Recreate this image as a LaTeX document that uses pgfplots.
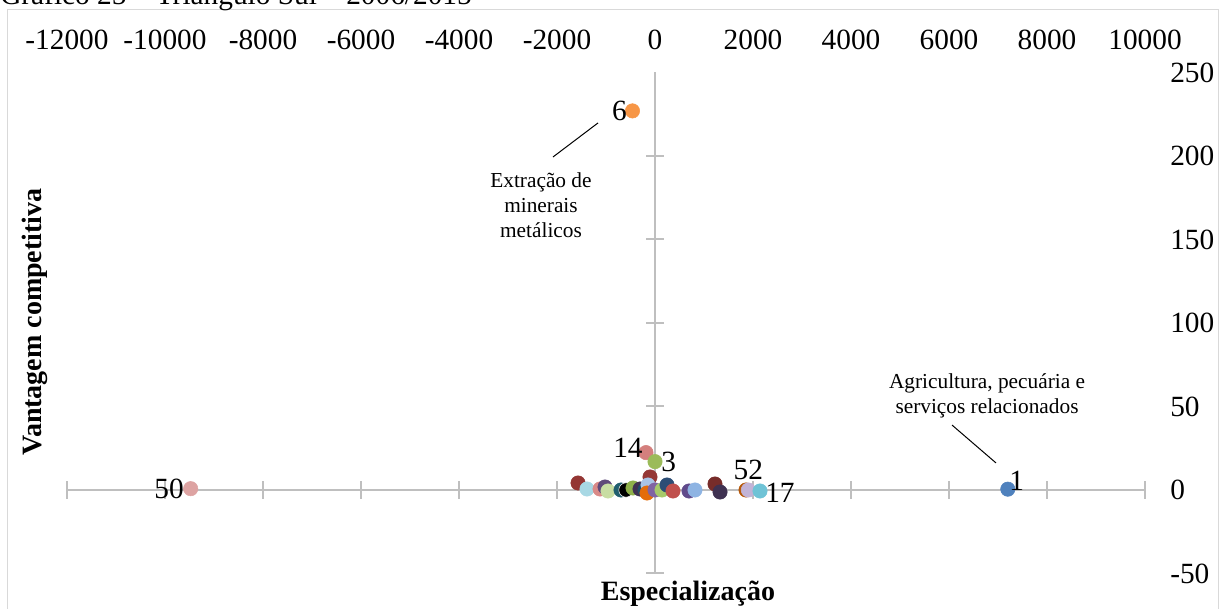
\documentclass[border=0pt]{standalone}
\usepackage{pgfplots}
\pgfplotsset{compat=1.18}
\usepackage{fontspec}
\setmainfont{Liberation Serif}

\definecolor{c01}{HTML}{4F81BD}
\definecolor{c06}{HTML}{F79646}
\definecolor{c03}{HTML}{9BBB59}
\definecolor{c14}{HTML}{D47F7D}
\definecolor{c17}{HTML}{6FC3D6}
\definecolor{c50}{HTML}{DDA3A2}
\definecolor{c52}{HTML}{C2B3D6}
\definecolor{cA}{HTML}{943634}
\definecolor{cB}{HTML}{A8D8E4}
\definecolor{cC}{HTML}{D98A88}
\definecolor{cD}{HTML}{5F497A}
\definecolor{cE}{HTML}{C8DDA3}
\definecolor{cF}{HTML}{215E6E}
\definecolor{cG}{HTML}{00B050}
\definecolor{cH}{HTML}{8FB04A}
\definecolor{cI}{HTML}{403152}
\definecolor{cJ}{HTML}{1F4E6B}
\definecolor{cK}{HTML}{953735}
\definecolor{cL}{HTML}{A9C4E6}
\definecolor{cM}{HTML}{E46C0A}
\definecolor{cN}{HTML}{8064A2}
\definecolor{cO}{HTML}{A7C96A}
\definecolor{cP}{HTML}{2C4D75}
\definecolor{cQ}{HTML}{C0504D}
\definecolor{cR}{HTML}{604A8B}
\definecolor{cS}{HTML}{8EB4E3}
\definecolor{cT}{HTML}{772C2A}
\definecolor{cU}{HTML}{3F3151}
\definecolor{cV}{HTML}{B65708}
\definecolor{axgray}{HTML}{BFBFBF}
\definecolor{framegray}{HTML}{D9D9D9}

\pgfplotsset{
  common/.style={
    scale only axis, width=808.5pt, height=375.75pt,
    xmin=-12000, xmax=10000, ymin=-50, ymax=250,
    enlargelimits=false, at={(0pt,0pt)}, anchor=south west,
    scaled ticks=false,
  },
  dot/.style={only marks, mark=*, mark size=5.4pt,
    mark options={draw=#1, fill=#1, line width=0.4pt}, forget plot},
  lab/.style={nodes near coords={#1}, nodes near coords style={font=\fontsize{22}{26}\selectfont, inner sep=0pt, text=black}},
}

\begin{document}
\begin{tikzpicture}
\useasboundingbox (-50.25pt,-26.625pt) rectangle (872.25pt,430.125pt);
\draw[framegray, line width=0.75pt] (-44.25pt,-60pt) rectangle (863.25pt,422.625pt);
\node[anchor=base west, inner sep=0pt, font=\fontsize{22}{26}\selectfont] at (-50.25pt,426.4pt) {Gráfico 25 – Triângulo Sul – 2006/2015};

% labels axis
\begin{axis}[common,
  axis line style={draw=none}, tick style={draw=none}, major tick length=0pt,
  xticklabel pos=upper, yticklabel pos=right,
  xtick={-12000,-10000,...,10000}, ytick={-50,0,...,250},
  /pgf/number format/1000 sep={}, /pgf/number format/assume math mode=true,
  xticklabel style={anchor=base, inner sep=0pt, yshift=17pt, font=\fontsize{22}{26}\selectfont},
  yticklabel style={anchor=west, inner sep=0pt, xshift=18.75pt, font=\fontsize{22}{26}\selectfont},
  xlabel={Especialização}, ylabel={Vantagem competitiva},
  xlabel style={at={(axis description cs:0.576,0)}, anchor=base, inner sep=0pt, yshift=-20.6pt, font=\bfseries\fontsize{21}{24}\selectfont},
  ylabel style={at={(axis description cs:0,0.502)}, anchor=center, inner sep=0pt, yshift=24pt, font=\bfseries\fontsize{21}{24}\selectfont},
]
\addplot[draw=none, forget plot] coordinates {(0,0)};
\end{axis}

% middle axis + data
\begin{axis}[common,
  axis lines=middle, clip=false,
  axis line style={draw=axgray, line width=1.5pt, -},
  every inner x axis line/.append style={-},
  every inner y axis line/.append style={-},
  xtick={-12000,-10000,-8000,-6000,-4000,-2000,2000,4000,6000,8000,10000},
  ytick={-50,50,100,150,200},
  xticklabels={}, yticklabels={},
  tick align=center, major tick length=13.5pt,
  tick style={draw=axgray, line width=1.5pt},
]
\addplot[dot=cA] coordinates {(-1571,4.2)};
\addplot[dot=cB] coordinates {(-1388,0.6)};
\addplot[dot=cC] coordinates {(-1122,0.6)};
\addplot[dot=cD] coordinates {(-1020,1.8)};
\addplot[dot=cE] coordinates {(-959,-0.6)};
\addplot[dot=cF] coordinates {(-694,0)};
\addplot[dot=cG, mark options={draw=white}] coordinates {(-592,0)};
\addplot[dot=cH] coordinates {(-449,1.2)};
\addplot[dot=cI] coordinates {(-306,0.6)};
\addplot[dot=cJ] coordinates {(-204,0)};
\addplot[dot=cK] coordinates {(-102,7.8)};
\addplot[dot=cL] coordinates {(-143,3)};
\addplot[dot=cM] coordinates {(-163,-1.8)};
\addplot[dot=cN] coordinates {(0,0)};
\addplot[dot=cO] coordinates {(143,0)};
\addplot[dot=cP] coordinates {(245,3)};
\addplot[dot=cQ] coordinates {(367,-0.6)};
\addplot[dot=cR] coordinates {(694,-0.6)};
\addplot[dot=cS] coordinates {(816,0)};
\addplot[dot=cT] coordinates {(1224,3.6)};
\addplot[dot=cU] coordinates {(1327,-1.2)};
\addplot[dot=cV] coordinates {(1857,0)};
% labelled points
\addplot[dot=c14, lab={14}, nodes near coords style={anchor=east, xshift=-2.3pt, yshift=3.5pt}] coordinates {(-184,22.4)};
\addplot[dot=c03, lab={3}, nodes near coords style={anchor=west, xshift=4.5pt}] coordinates {(0,17)};
\addplot[dot=c52, lab={52}, nodes near coords style={anchor=south, yshift=7.5pt}] coordinates {(1905,0)};
\addplot[dot=c17, lab={17}, nodes near coords style={anchor=west, xshift=3.75pt, yshift=-1.5pt}] coordinates {(2143,-0.6)};
\addplot[dot=c50, lab={50}, nodes near coords style={anchor=east, xshift=-5pt}] coordinates {(-9476,0.8)};
\addplot[dot=c06, lab={6}, nodes near coords style={anchor=east, xshift=-4pt}] coordinates {(-460,227)};
\addplot[dot=c01, lab={1}, nodes near coords style={anchor=west, xshift=1pt, yshift=6.5pt}] coordinates {(7200,0.5)};

% annotations
\node[align=center, inner sep=0pt, font=\fontsize{16}{18.75}\selectfont] at (axis cs:-2327,170.7) {Extração de\\minerais\\metálicos};
\draw[black, line width=0.75pt] (axis cs:-2082,199.4) -- (axis cs:-1163,219.8);
\node[align=center, inner sep=0pt, font=\fontsize{16}{18.75}\selectfont] at (axis cs:6776,56.3) {Agricultura, pecuária e\\serviços relacionados};
\draw[black, line width=0.75pt] (axis cs:6061,38.9) -- (axis cs:6959,16.2);
\end{axis}
\end{tikzpicture}
\end{document}
